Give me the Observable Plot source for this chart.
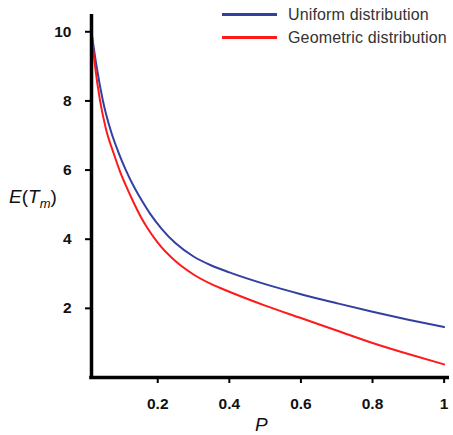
<!DOCTYPE html>
<html>
<head>
<meta charset="utf-8">
<script src="https://cdn.jsdelivr.net/npm/d3@7"></script>
<script src="https://cdn.jsdelivr.net/npm/@observablehq/plot@0.6"></script>
<style>
  html, body { margin: 0; padding: 0; background: #fff; }
  #wrap { position: relative; width: 453px; height: 435px; font-family: "Liberation Sans", Arial, sans-serif; }
  #legend { position: absolute; left: 222px; top: 3px; font-size: 16px; letter-spacing: 0.15px; color: #333; line-height: 23px; white-space: nowrap; }
  #legend .row { display: flex; align-items: center; }
  #legend .sw { width: 55px; height: 2.5px; margin-right: 11px; }
  #ylab { position: absolute; left: 9px; top: 186px; font-size: 19px; font-style: italic; color: #111; }
  #ylab sub { font-size: 13px; }
  #xlab { position: absolute; left: 255px; top: 414px; font-size: 19px; font-style: italic; color: #111; }
</style>
</head>
<body>
<div id="wrap">
  <div id="chart"></div>
  <div id="legend"></div>
  <div id="ylab"><span style="font-style:italic">E</span><span style="font-style:normal">(</span>T<sub>m</sub><span style="font-style:normal">)</span></div>
  <div id="xlab">P</div>
</div>
<script>
const seriesNames = ["Uniform distribution", "Geometric distribution"];
const seriesColors = ["#3340a0", "#ff1a1a"];

const pUniform = [0.015, 0.03, 0.047, 0.07, 0.09, 0.11, 0.137, 0.151, 0.18, 0.211, 0.25, 0.3, 0.35, 0.4, 0.5, 0.6, 0.7, 0.8, 0.9, 1.0];
const eUniform = [10.0, 8.95, 8.0, 7.1, 6.52, 6.02, 5.45, 5.2, 4.72, 4.3, 3.88, 3.5, 3.24, 3.04, 2.7, 2.41, 2.15, 1.9, 1.67, 1.46];

const pGeometric = [0.015, 0.025, 0.039, 0.055, 0.078, 0.095, 0.109, 0.13, 0.151, 0.169, 0.2, 0.25, 0.3, 0.35, 0.4, 0.5, 0.6, 0.7, 0.8, 0.9, 1.0];
const eGeometric = [10.0, 9.0, 8.0, 7.2, 6.45, 5.95, 5.6, 5.12, 4.68, 4.36, 3.9, 3.36, 2.98, 2.7, 2.48, 2.08, 1.72, 1.36, 1.0, 0.68, 0.38];

const xTicks = [0.2, 0.4, 0.6, 0.8, 1];
const yTicks = [2, 4, 6, 8, 10];

const data = [
  ...pUniform.map((p, i) => ({p, e: eUniform[i], s: seriesNames[0]})),
  ...pGeometric.map((p, i) => ({p, e: eGeometric[i], s: seriesNames[1]}))
];

const plot = Plot.plot({
  width: 453,
  height: 435,
  marginLeft: 91,
  marginRight: 4,
  marginTop: 14,
  marginBottom: 58,
  style: {fontFamily: "'Liberation Sans', Arial, sans-serif", fontSize: "15.5px", fontWeight: "bold", color: "#111"},
  x: {domain: [0.015, 1.015]},
  y: {domain: [0, 10.5]},
  color: {domain: seriesNames, range: seriesColors},
  marks: [
    Plot.line(data, {x: "p", y: "e", z: "s", stroke: "s", strokeWidth: 2, curve: "monotone-x"}),
    Plot.ruleX([0.015], {stroke: "#000", strokeWidth: 3.5, y1: 0, y2: 10.5}),
    Plot.ruleY([0], {stroke: "#000", strokeWidth: 3.5, x1: 0.01, x2: 1.015}),
    Plot.axisX({ticks: xTicks, tickFormat: d => String(d), tickSize: 6, tickPadding: 14, stroke: "#000", strokeWidth: 2, label: null}),
    Plot.axisY({ticks: yTicks, tickSize: 6, tickPadding: 14, stroke: "#000", strokeWidth: 2, label: null})
  ]
});
document.getElementById("chart").appendChild(plot);

const legend = document.getElementById("legend");
seriesNames.forEach((n, i) => {
  const row = document.createElement("div");
  row.className = "row";
  const sw = document.createElement("span");
  sw.className = "sw";
  sw.style.background = seriesColors[i];
  const t = document.createElement("span");
  t.textContent = n;
  row.appendChild(sw); row.appendChild(t);
  legend.appendChild(row);
});
</script>
</body>
</html>
